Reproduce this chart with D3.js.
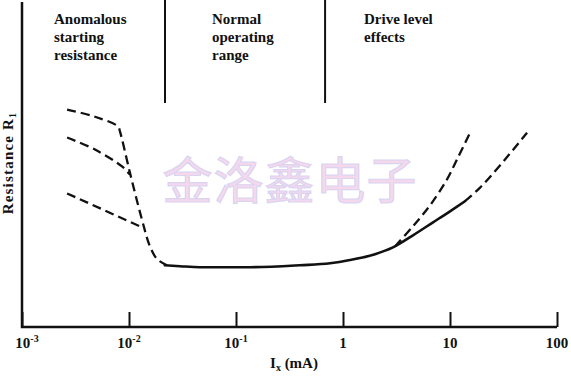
<!DOCTYPE html>
<html>
<head>
<meta charset="utf-8">
<script src="https://cdn.jsdelivr.net/npm/d3@7"></script>
<style>
  body { margin: 0; background: #fff; }
  svg { display: block; }
  text { font-family: "Liberation Serif", "Times New Roman", serif; font-weight: bold; fill: #111; }
</style>
</head>
<body>
<div id="svgOutput"></div>
<script>
// data (x in mA, y in arbitrary resistance units)

const tickValues = [1e-3, 1e-2, 1e-1, 1, 10, 100];
const tickBases = ["10", "10", "10", "1", "10", "100"];
const tickExps = ["-3", "-2", "-1", "", "", ""];

const regionBounds = [0.0217, 0.68];
const regionLabels = [
  ["Anomalous", "starting", "resistance"],
  ["Normal", "operating", "range"],
  ["Drive level", "effects"]
];

// high starting resistance, drops down steeply
const startHigh = [
  [0.00264, 66.9], [0.00481, 64.7], [0.00789, 61.7], [0.00824, 60.1],
  [0.0102, 47.5], [0.0132, 33.1], [0.0157, 24.8], [0.0183, 20.9], [0.0226, 19.0]
];
const startMid = [[0.00264, 58.3], [0.00481, 54.6], [0.0086, 49.4], [0.0102, 46.9]];
const startLow = [[0.00264, 41.1], [0.0132, 30.7]];

// normal curve (solid)
const normalCurve = [
  [0.0216, 19.0], [0.030, 18.7], [0.0461, 18.4], [0.135, 18.4], [0.396, 19.0],
  [0.757, 19.6], [1.16, 20.6], [1.99, 22.4], [2.93, 24.5], [4.51, 28.2],
  [6.94, 32.2], [10.0, 35.6], [13.8, 38.7]
];
// drive level branches (dashed)
const driveLow = [[13.8, 38.7], [19.1, 42.9], [29.3, 49.7], [52.5, 59.8]];
const driveHigh = [[3.06, 24.8], [4.51, 31.0], [6.5, 37.4], [9.37, 45.4], [12.0, 52.5], [15.4, 59.8]];

(function () {
  const width = 571;
  const height = 376;
  const margin = { top: 2, bottom: 49, left: 22, right: 14 };

  const xScale = d3.scaleLog()
    .domain([1e-3, 100])
    .range([margin.left, width - margin.right]);

  const yScale = d3.scaleLinear()
    .domain([0, 100])
    .range([height - margin.bottom, margin.top]);

  const svg = d3.select("#svgOutput")
    .append("svg")
    .attr("width", width)
    .attr("height", height)
    .attr("viewBox", [0, 0, width, height]);

  svg.append("rect").attr("width", width).attr("height", height).attr("fill", "#fff");

  // watermark
  svg.append("text")
    .attr("x", 290)
    .attr("y", 199)
    .attr("text-anchor", "middle")
    .style("font-family", '"Noto Sans CJK SC", sans-serif')
    .style("font-weight", "normal")
    .style("font-size", "50px")
    .style("letter-spacing", "1px")
    .style("fill", "#f5d8ec")
    .style("stroke", "#d8d4f2")
    .style("stroke-width", "1.2")
    .text("金洛鑫电子");

  // region separators
  svg.selectAll("line.sep")
    .data(regionBounds)
    .join("line")
    .attr("class", "sep")
    .attr("x1", d => xScale(d))
    .attr("x2", d => xScale(d))
    .attr("y1", 0)
    .attr("y2", 103)
    .attr("stroke", "#111")
    .attr("stroke-width", 2);

  const labelX = [54, 212, 364];
  regionLabels.forEach((lines, i) => {
    const t = svg.append("text")
      .attr("x", labelX[i])
      .attr("y", 24)
      .style("font-size", "15px");
    lines.forEach((s, j) => {
      t.append("tspan")
        .attr("x", labelX[i])
        .attr("dy", j === 0 ? 0 : 18)
        .text(s);
    });
  });

  // curves
  const line = d3.line()
    .x(d => xScale(d[0]))
    .y(d => yScale(d[1]))
    .curve(d3.curveCatmullRom.alpha(0.5));

  const dashed = [startHigh, startMid, startLow, driveLow, driveHigh];
  svg.selectAll("path.dash")
    .data(dashed)
    .join("path")
    .attr("class", "dash")
    .attr("d", line)
    .attr("fill", "none")
    .attr("stroke", "#111")
    .attr("stroke-width", 2.3)
    .attr("stroke-dasharray", "9,5");

  svg.append("path")
    .attr("d", line.curve(d3.curveMonotoneX)(normalCurve))
    .attr("fill", "none")
    .attr("stroke", "#111")
    .attr("stroke-width", 2.6)
    .attr("stroke-linecap", "round");

  // axes
  const xAxis = d3.axisBottom(xScale)
    .tickValues(tickValues)
    .tickSize(-15)
    .tickFormat("");

  svg.append("g")
    .attr("transform", "translate(0," + yScale(0) + ")")
    .call(xAxis)
    .call(g => g.select(".domain").remove())
    .call(g => g.selectAll(".tick line").attr("stroke", "#111").attr("stroke-width", 2));

  svg.append("path")
    .attr("d", d3.line()([[margin.left, margin.top], [margin.left, yScale(0)], [xScale(100), yScale(0)]]))
    .attr("fill", "none")
    .attr("stroke", "#111")
    .attr("stroke-width", 2.5);

  const labels = svg.selectAll("text.tick-label")
    .data(tickValues)
    .join("text")
    .attr("class", "tick-label")
    .attr("x", (d, i) => i === 0 ? xScale(d) + 5 : xScale(d))
    .attr("y", yScale(0) + 21)
    .attr("text-anchor", "middle")
    .style("font-size", "15px");
  labels.append("tspan").text((d, i) => tickBases[i]);
  labels.append("tspan")
    .attr("dy", -6)
    .style("font-size", "10px")
    .text((d, i) => tickExps[i]);

  // axis titles
  const xt = svg.append("text")
    .attr("x", 294)
    .attr("y", 368)
    .attr("text-anchor", "middle")
    .style("font-size", "15px");
  xt.append("tspan").text("I");
  xt.append("tspan").attr("dy", 3).style("font-size", "10px").text("x");
  xt.append("tspan").attr("dy", -3).text(" (mA)");

  const yt = svg.append("text")
    .attr("transform", "translate(13,163) rotate(-90)")
    .attr("text-anchor", "middle")
    .style("font-size", "15px")
    .style("letter-spacing", "1.2px");
  yt.append("tspan").text("Resistance R");
  yt.append("tspan").attr("dy", 3).style("font-size", "10px").text("1");
})();
</script>
</body>
</html>
